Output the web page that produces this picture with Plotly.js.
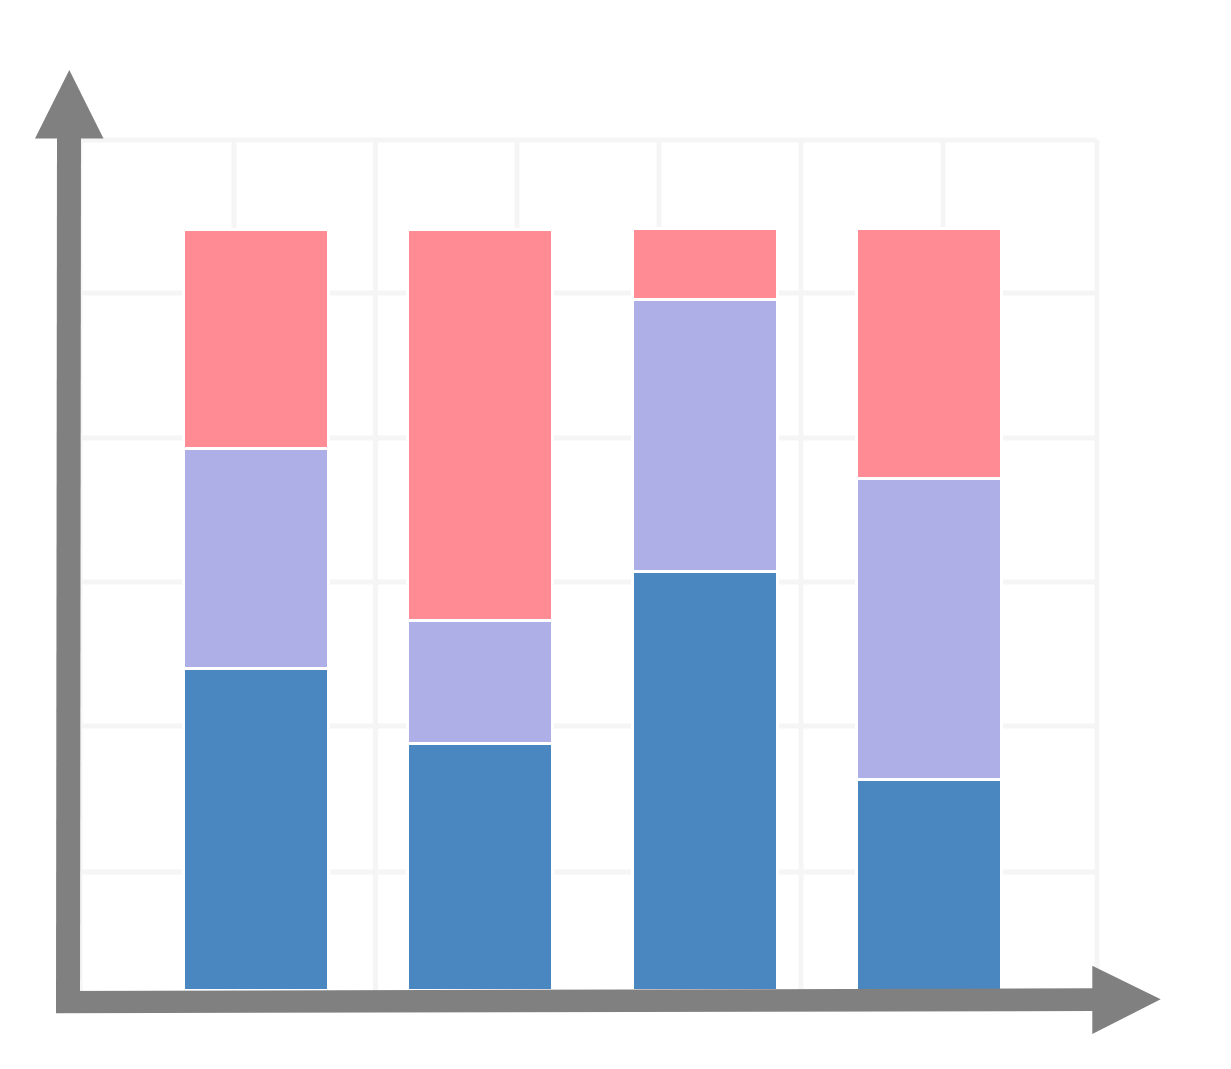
<!DOCTYPE html>
<html>
<head>
<meta charset="utf-8">
<script src="https://cdn.plot.ly/plotly-3.0.1.min.js"></script>
<style>html,body{margin:0;padding:0;background:#fff;}#chart{width:1231px;height:1069px;}</style>
</head>
<body>
<div id="chart"></div>
<script>
// Data (percent shares, each bar sums to ~100)
var categories = ["A", "B", "C", "D"];
var seriesBlue   = [42.2, 32.4, 55.0, 27.6];
var seriesPurple = [28.9, 16.1, 35.7, 39.5];
var seriesPink   = [28.8, 51.4, 9.3, 32.9];
var seriesNames  = ["Series 1", "Series 2", "Series 3"];

var colors = ["#4A87C0", "#AFAFE7", "#FF8B95"];
var values = [seriesBlue, seriesPurple, seriesPink];

var traces = values.map(function (v, i) {
  return {
    type: "bar",
    x: categories,
    y: v,
    name: seriesNames[i],
    width: 0.647,
    marker: { color: colors[i], line: { color: "#ffffff", width: 3 } },
    hoverinfo: "name+y"
  };
});

// plot area geometry (pixels)
var L = 80, R = 1097, T = 140, B = 990;
var W = R - L, H = B - T;
function px(x) { return (x - L) / W; }
function py(y) { return (B - y) / H; }
function poly(pts) {
  return pts.map(function (p, k) { return (k ? "L" : "M") + px(p[0]) + "," + py(p[1]); }).join(" ") + " Z";
}

var shapes = [];
var gridColor = "#F5F5F5";
// vertical grid lines
var vLines = [L, 234, 375.5, 517, 659, 801, 943, R];
vLines.forEach(function (x) {
  shapes.push({ type: "line", xref: "paper", yref: "paper", x0: px(x), x1: px(x), y0: py(T), y1: py(1000),
    line: { color: gridColor, width: 5 }, layer: "below" });
});
// horizontal grid lines
var hLines = [T, 293, 438, 582, 726, 872];
hLines.forEach(function (y) {
  shapes.push({ type: "line", xref: "paper", yref: "paper", x0: px(L), x1: px(R), y0: py(y), y1: py(y),
    line: { color: gridColor, width: 5 }, layer: "below" });
});

var gray = "#808080";
// y axis arrow shaft + head
shapes.push({ type: "path", xref: "paper", yref: "paper", layer: "above",
  path: poly([[57, 136], [81, 136], [80, 1013], [56, 1013]]), fillcolor: gray, line: { width: 0 } });
shapes.push({ type: "path", xref: "paper", yref: "paper", layer: "above",
  path: poly([[69.3, 70], [103.5, 138.5], [35, 138.5]]), fillcolor: gray, line: { width: 0 } });
// x axis arrow shaft + head
shapes.push({ type: "path", xref: "paper", yref: "paper", layer: "above",
  path: poly([[56, 991], [1094, 988.3], [1094, 1011], [56, 1013.3]]), fillcolor: gray, line: { width: 0 } });
shapes.push({ type: "path", xref: "paper", yref: "paper", layer: "above",
  path: poly([[1092.3, 965.7], [1160.7, 999.3], [1092.3, 1034]]), fillcolor: gray, line: { width: 0 } });

var layout = {
  width: 1231,
  height: 1069,
  margin: { l: L, r: 1231 - R, t: T, b: 1069 - B, pad: 0 },
  barmode: "stack",
  showlegend: false,
  paper_bgcolor: "#ffffff",
  plot_bgcolor: "rgba(0,0,0,0)",
  xaxis: { type: "category", range: [-0.786, 3.75], showgrid: false, zeroline: false,
    showline: false, showticklabels: false, ticks: "", fixedrange: true },
  yaxis: { range: [0, 111.6], showgrid: false, zeroline: false, showline: false,
    showticklabels: false, ticks: "", fixedrange: true },
  shapes: shapes
};

Plotly.newPlot("chart", traces, layout, { displayModeBar: false, staticPlot: true });
</script>
</body>
</html>
